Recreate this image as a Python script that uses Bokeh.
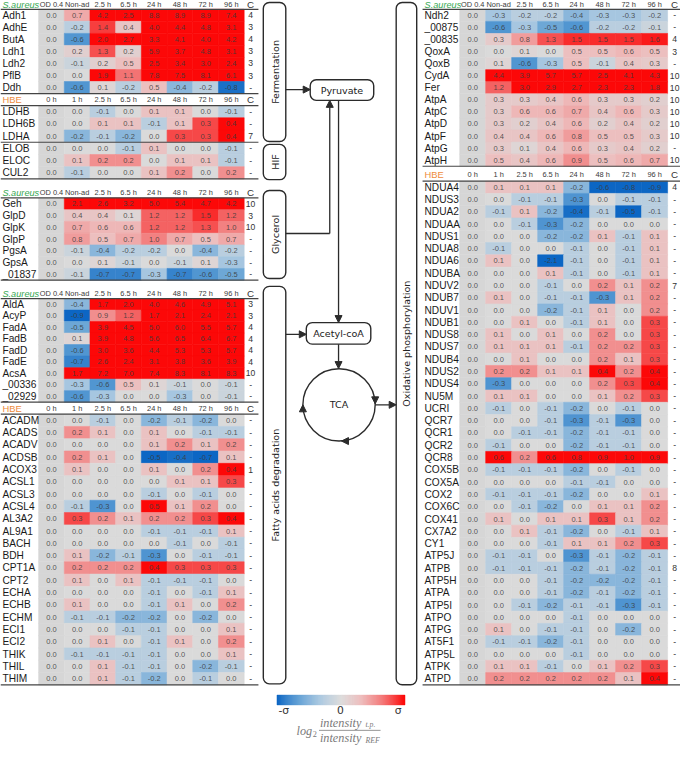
import numpy as np
from bokeh.plotting import figure
from bokeh.models import Arrow, NormalHead
from bokeh.core.properties import value
from bokeh.embed import file_html
from bokeh.resources import INLINE

# ---------------- data ----------------
SA_COLS = ["OD 0.4", "Non-ad", "2.5 h", "6.5 h", "24 h", "48 h", "72 h", "96 h"]
HBE_COLS = ["0 h", "1 h", "2.5 h", "6.5 h", "24 h", "48 h", "72 h", "96 h"]

# Fermentation (S. aureus)
ferm_genes = ["Adh1", "AdhE", "ButA", "Ldh1", "Ldh2", "PflB", "Ddh"]
ferm_vals = [
    [0.0, 0.7, 4.2, 2.5, 8.8, 8.9, 8.9, 7.4],
    [0.0, -0.2, 1.4, 0.4, 4.0, 4.4, 4.8, 3.1],
    [0.0, -0.6, 2.0, 2.7, 3.3, 4.1, 4.0, 4.2],
    [0.0, 0.2, 1.3, 0.2, 5.9, 3.7, 4.8, 3.1],
    [0.0, -0.1, 0.2, 0.5, 2.5, 3.4, 3.0, 2.4],
    [0.0, 0.0, 1.9, 1.1, 7.8, 7.5, 8.1, 6.1],
    [0.0, -0.6, 0.1, -0.2, 0.5, -0.4, -0.2, -0.8],
]
ferm_c = ["4", "3", "4", "3", "3", "3", "-"]

# Fermentation / HIF (HBE)
ldh_hif_genes = ["LDHB", "LDH6B", "LDHA", "ELOB", "ELOC", "CUL2"]
ldh_hif_vals = [
    [0.0, 0.0, -0.1, 0.0, 0.1, 0.1, 0.0, -0.1],
    [0.0, 0.0, 0.1, 0.1, -0.1, 0.1, 0.3, 0.4],
    [0.0, -0.2, -0.1, -0.2, 0.0, 0.3, 0.3, 0.4],
    [0.0, 0.0, 0.0, -0.1, 0.1, 0.0, 0.0, -0.1],
    [0.0, 0.1, 0.2, 0.2, 0.0, 0.1, 0.1, -0.1],
    [0.0, -0.1, 0.0, 0.0, 0.1, 0.2, 0.0, 0.2],
]
ldh_hif_c = ["-", "-", "7", "-", "-", "-"]

# Glycerol (S. aureus)
gly_genes = ["Geh", "GlpD", "GlpK", "GlpP", "PgsA", "GpsA", "_01837"]
gly_vals = [
    [0.0, 2.1, 2.6, 3.2, 5.0, 5.4, 4.7, 4.2],
    [0.0, 0.4, 0.4, 0.1, 1.2, 1.2, 1.5, 1.2],
    [0.0, 0.7, 0.6, 0.6, 1.2, 1.2, 1.3, 1.0],
    [0.0, 0.8, 0.5, 0.7, 1.0, 0.7, 0.5, 0.7],
    [0.0, -0.1, -0.4, -0.2, -0.2, 0.0, -0.4, -0.2],
    [0.0, 0.0, 0.1, -0.1, 0.0, -0.1, 0.1, -0.3],
    [0.0, -0.1, -0.7, -0.7, -0.3, -0.7, -0.6, -0.5],
]
gly_c = ["10", "3", "10", "-", "-", "-", "-"]

# Fatty acids degradation (S. aureus)
fa_sa_genes = ["AldA", "AcyP", "FadA", "FadB", "FadD", "FadE", "AcsA", "_00336", "_02929"]
fa_sa_vals = [
    [0.0, -0.4, 1.7, 2.0, 4.0, 4.6, 4.9, 5.1],
    [0.0, -0.9, 0.9, 1.2, 1.7, 2.1, 2.4, 2.1],
    [0.0, -0.5, 3.9, 4.5, 5.0, 6.0, 5.5, 5.7],
    [0.0, 0.1, 3.9, 4.8, 5.6, 6.5, 6.4, 6.7],
    [0.0, -0.6, 3.0, 3.6, 4.4, 5.3, 5.3, 5.7],
    [0.0, -0.7, 2.6, 2.4, 3.1, 3.8, 3.6, 3.9],
    [0.0, 1.7, 7.2, 7.0, 7.4, 8.3, 8.1, 8.3],
    [0.0, -0.3, -0.6, 0.5, 0.1, -0.1, 0.0, -0.1],
    [0.0, -0.6, -0.3, 0.0, 0.0, -0.3, 0.0, -0.1],
]
fa_sa_c = ["3", "3", "4", "4", "4", "4", "10", "-", "-"]

# Fatty acids degradation (HBE)
fa_hbe_genes = ["ACADM", "ACADS", "ACADV", "ACDSB", "ACOX3", "ACSL1", "ACSL3", "ACSL4",
                "AL3A2", "AL9A1", "BACH", "BDH", "CPT1A", "CPT2", "ECHA", "ECHB", "ECHM",
                "ECI1", "ECI2", "THIK", "THIL", "THIM"]
fa_hbe_vals = [
    [0.0, 0.0, -0.1, 0.0, -0.2, -0.1, -0.2, 0.0],
    [0.0, 0.2, 0.1, 0.0, 0.1, 0.0, -0.1, -0.1],
    [0.0, 0.0, 0.0, 0.0, 0.1, 0.2, 0.1, 0.2],
    [0.0, 0.2, 0.1, 0.0, -0.5, -0.4, -0.7, 0.1],
    [0.0, 0.1, 0.0, 0.0, 0.1, 0.0, 0.2, 0.4],
    [0.0, 0.0, 0.0, 0.0, 0.0, 0.1, 0.1, 0.3],
    [0.0, 0.0, 0.0, 0.0, -0.1, 0.0, -0.1, 0.0],
    [0.0, -0.1, -0.3, 0.0, 0.5, 0.1, 0.2, 0.0],
    [0.0, 0.3, 0.2, 0.1, 0.2, 0.2, 0.3, 0.4],
    [0.0, 0.0, 0.0, 0.0, -0.1, -0.1, -0.1, 0.1],
    [0.0, 0.0, 0.0, 0.0, 0.0, -0.1, 0.0, -0.1],
    [0.0, 0.1, -0.2, -0.1, -0.3, 0.0, -0.1, -0.1],
    [0.0, 0.2, 0.2, 0.2, 0.4, 0.3, 0.3, 0.3],
    [0.0, 0.1, 0.0, 0.1, -0.1, -0.1, -0.1, 0.0],
    [0.0, 0.0, 0.0, 0.0, -0.1, 0.0, -0.1, 0.1],
    [0.0, 0.1, 0.0, 0.0, -0.1, 0.1, 0.0, 0.2],
    [0.0, -0.1, -0.1, -0.2, -0.2, 0.0, -0.2, 0.0],
    [0.0, 0.0, 0.0, -0.1, -0.1, 0.0, 0.0, 0.1],
    [0.0, 0.0, 0.1, 0.0, -0.1, 0.1, 0.0, 0.2],
    [0.0, -0.1, -0.1, -0.1, -0.1, 0.0, 0.0, 0.1],
    [0.0, 0.0, 0.1, -0.1, -0.1, 0.0, -0.2, -0.1],
    [0.0, 0.0, 0.1, -0.1, -0.2, 0.0, -0.1, 0.0],
]
fa_hbe_c = ["-", "-", "-", "-", "1"] + ["-"] * 17

# Oxidative phosphorylation (S. aureus)
ox_sa_genes = ["Ndh2", "_00875", "_00835", "QoxA", "QoxB", "CydA", "Fer",
               "AtpA", "AtpC", "AtpD", "AtpF", "AtpG", "AtpH"]
ox_sa_vals = [
    [0.0, -0.3, -0.2, -0.2, -0.4, -0.3, -0.3, -0.2],
    [0.0, -0.6, -0.3, -0.5, -0.6, -0.2, -0.2, -0.1],
    [0.0, 0.3, 0.8, 1.3, 1.5, 1.5, 1.5, 1.6],
    [0.0, 0.0, 0.1, 0.0, 0.5, 0.5, 0.6, 0.5],
    [0.0, 0.1, -0.6, -0.3, 0.5, -0.1, 0.4, 0.3],
    [0.0, 4.4, 3.9, 5.7, 5.7, 2.5, 4.1, 4.3],
    [0.0, 1.2, 3.0, 2.9, 2.7, 2.3, 2.3, 1.8],
    [0.0, 0.3, 0.3, 0.4, 0.6, 0.3, 0.3, 0.2],
    [0.0, 0.3, 0.6, 0.6, 0.7, 0.4, 0.6, 0.3],
    [0.0, 0.3, 0.2, 0.4, 0.6, 0.2, 0.4, 0.2],
    [0.0, 0.4, 0.4, 0.6, 0.8, 0.5, 0.5, 0.3],
    [0.0, 0.3, 0.1, 0.4, 0.6, 0.3, 0.4, 0.2],
    [0.0, 0.5, 0.4, 0.6, 0.9, 0.5, 0.6, 0.7],
]
ox_sa_c = ["-", "-", "4", "3", "-", "10", "10", "10", "10", "10", "10", "-", "10"]

# Oxidative phosphorylation (HBE)
ox_hbe_genes = ["NDUA4", "NDUS3", "NDUA2", "NDUAA", "NDUS1", "NDUA8", "NDUA6", "NDUBA",
                "NDUV2", "NDUB7", "NDUV1", "NDUB1", "NDUS8", "NDUS7", "NDUB4", "NDUS2",
                "NDUS4", "NU5M", "UCRI", "QCR7", "QCR1", "QCR2", "QCR8", "COX5B", "COX5A",
                "COX2", "COX6C", "COX41", "CX7A2", "CY1", "ATP5J", "ATPB", "ATP5H", "ATPA",
                "ATP5I", "ATPO", "ATPG", "AT5F1", "ATP5L", "ATPK", "ATPD"]
ox_hbe_vals = [
    [0.0, 0.1, 0.1, 0.1, -0.2, -0.6, -0.8, -0.9],
    [0.0, 0.0, -0.1, -0.1, -0.3, 0.0, -0.1, -0.1],
    [0.0, -0.1, 0.1, -0.2, -0.4, -0.1, -0.5, -0.1],
    [0.0, 0.0, -0.1, -0.3, -0.2, 0.0, 0.0, 0.0],
    [0.0, 0.0, 0.0, -0.2, -0.2, 0.1, -0.1, 0.1],
    [0.0, -0.1, 0.0, 0.0, -0.1, 0.0, -0.1, 0.1],
    [0.0, 0.1, 0.0, -2.1, -0.1, 0.0, -0.1, 0.1],
    [0.0, 0.0, 0.0, 0.1, -0.1, 0.0, -0.1, 0.1],
    [0.0, 0.0, 0.0, -0.1, 0.0, 0.2, 0.1, 0.2],
    [0.0, 0.1, 0.0, -0.1, -0.1, -0.3, 0.1, 0.2],
    [0.0, 0.0, 0.0, -0.2, -0.1, 0.1, 0.0, 0.2],
    [0.0, 0.0, 0.1, 0.0, -0.1, 0.1, 0.0, 0.3],
    [0.0, 0.1, 0.0, 0.1, 0.0, 0.2, 0.0, 0.3],
    [0.0, 0.1, 0.1, 0.1, -0.1, 0.2, 0.2, 0.3],
    [0.0, 0.0, 0.1, 0.0, 0.0, 0.2, 0.1, 0.3],
    [0.0, 0.2, 0.2, 0.1, 0.1, 0.4, 0.2, 0.4],
    [0.0, -0.3, 0.0, 0.0, 0.0, 0.2, 0.3, 0.4],
    [0.0, 0.1, 0.1, 0.0, 0.0, 0.1, 0.2, 0.3],
    [0.0, -0.1, 0.0, -0.1, -0.2, 0.0, -0.1, 0.0],
    [0.0, 0.0, 0.0, -0.1, -0.3, -0.1, -0.3, 0.0],
    [0.0, 0.0, -0.1, -0.1, -0.2, -0.1, -0.1, 0.0],
    [0.0, -0.1, 0.0, 0.0, -0.2, -0.1, -0.1, 0.0],
    [0.0, 0.6, 0.2, 0.6, 0.8, 0.9, 1.0, 0.9],
    [0.0, -0.1, -0.1, -0.1, -0.2, 0.0, -0.1, 0.0],
    [0.0, 0.0, 0.0, 0.0, -0.1, -0.1, 0.0, 0.0],
    [0.0, -0.1, -0.1, -0.1, -0.2, 0.0, 0.0, 0.1],
    [0.0, 0.0, -0.1, -0.2, 0.0, 0.1, 0.1, 0.2],
    [0.0, 0.1, 0.0, 0.1, 0.1, 0.3, 0.1, 0.2],
    [0.0, 0.0, 0.1, -0.1, -0.2, 0.0, -0.1, 0.1],
    [0.0, 0.0, 0.0, -0.1, 0.1, 0.1, 0.2, 0.3],
    [0.0, -0.1, -0.1, 0.0, -0.3, -0.1, -0.2, -0.1],
    [0.0, -0.1, -0.1, -0.1, -0.2, -0.1, -0.2, -0.1],
    [0.0, 0.0, 0.0, -0.1, -0.2, -0.2, -0.2, -0.1],
    [0.0, 0.0, 0.0, -0.1, -0.2, -0.1, -0.2, -0.1],
    [0.0, 0.0, -0.1, -0.2, -0.1, -0.1, -0.3, -0.1],
    [0.0, 0.0, 0.0, 0.0, -0.1, 0.0, 0.0, 0.0],
    [0.0, 0.1, 0.0, -0.1, -0.1, 0.0, -0.2, 0.0],
    [0.0, -0.1, -0.1, -0.2, -0.1, 0.0, 0.0, 0.0],
    [0.0, 0.0, 0.0, 0.0, -0.1, 0.0, 0.0, 0.0],
    [0.0, 0.1, 0.1, -0.1, 0.0, 0.1, 0.2, 0.3],
    [0.0, 0.2, 0.2, 0.2, 0.2, 0.2, 0.1, 0.4],
]
ox_hbe_c = ["4"] + ["-"] * 7 + ["7"] + ["-"] * 22 + ["8"] + ["-"] * 9

# ---------------- styling / layout ----------------
W, H = 696, 762
SC = 680 / W


def fs(px):
    return f"{px * SC:.2f}px"


def Y(y):
    return H - y


POS = [(0.0, (218, 218, 218)), (0.33, (238, 188, 188)), (0.66, (243, 112, 112)), (1.0, (252, 8, 8))]
NEG = [(0.0, (218, 218, 218)), (0.33, (172, 201, 225)), (0.66, (92, 157, 211)), (1.0, (12, 102, 196))]
SCALE = {"SA": (1.7, 0.85), "HBE": (0.38, 0.42)}


def interp(stops, t):
    t = min(max(t, 0.0), 1.0)
    for (t0, c0), (t1, c1) in zip(stops[:-1], stops[1:]):
        if t <= t1:
            f = (t - t0) / (t1 - t0)
            c = [round(a + (b - a) * f) for a, b in zip(c0, c1)]
            return "#%02x%02x%02x" % tuple(c)
    return "#%02x%02x%02x" % stops[-1][1]


def cmap(v, sp):
    ps, ns = SCALE[sp]
    if v >= 0:
        return interp(POS, v / ps)
    return interp(NEG, -v / ns)


p = figure(width=680, height=746, x_range=(0, W), y_range=(0, H),
           output_backend="svg", toolbar_location=None, min_border=0)
p.axis.visible = False
p.grid.visible = False
p.outline_line_color = None
p.background_fill_color = "white"

TFONT = value("Liberation Sans")
DFONT = value("DejaVu Sans")
INK = "#2b2b2b"

LEFT = dict(lx=2, cx0=39, cw=26.3, ccx=256, x0=0, x1=264)
RIGHT = dict(lx=434, cx0=470, cw=26.6, ccx=690, x0=432, x1=696)


def draw_block(pan, sp, genes, vals, cvals, header_y, top, rh, seps=()):
    cols = SA_COLS if sp == "SA" else HBE_COLS
    if sp == "SA":
        p.text(x=[pan["lx"]], y=[Y(header_y)], text=["S.aureus"], text_font=TFONT,
               text_font_style="italic", text_font_size=fs(9.4), text_color="#35a852",
               text_baseline="middle", text_align="left")
    else:
        p.text(x=[pan["lx"]], y=[Y(header_y)], text=["HBE"], text_font=TFONT,
               text_font_size=fs(9.6), text_color="#ee8b3c",
               text_baseline="middle", text_align="left")
    hx = [pan["cx0"] + (j + 0.5) * pan["cw"] for j in range(len(cols))]
    p.text(x=hx, y=[Y(header_y)] * len(cols), text=cols, text_font=TFONT,
           text_font_size=fs(7.6), text_color="#3a3a3a", text_baseline="middle", text_align="center")
    p.text(x=[pan["ccx"]], y=[Y(header_y)], text=["C"], text_font=TFONT,
           text_font_size=fs(10), text_color="#333333", text_baseline="middle", text_align="center")

    xs, ys, fc, tx = [], [], [], []
    for i, row in enumerate(vals):
        yc = top + (i + 0.5) * rh
        for j, v in enumerate(row):
            xs.append(pan["cx0"] + (j + 0.5) * pan["cw"])
            ys.append(Y(yc))
            fc.append("#d6d6d6" if j == 0 else cmap(v, sp))
            tx.append(f"{v:.1f}")
    p.rect(x=xs, y=ys, width=pan["cw"], height=rh, fill_color=fc, line_color=fc, line_width=0.6)
    p.text(x=xs, y=ys, text=tx, text_font=TFONT, text_font_size=fs(7.7), text_color="#3a3a3a",
           text_alpha=0.85, text_baseline="middle", text_align="center")

    gy = [Y(top + (i + 0.5) * rh) for i in range(len(genes))]
    p.text(x=[pan["lx"]] * len(genes), y=gy, text=genes, text_font=TFONT, text_font_size=fs(10.4),
           text_color="#1a1a1a", text_baseline="middle", text_align="left")
    p.text(x=[pan["ccx"]] * len(genes), y=gy, text=cvals, text_font=TFONT, text_font_size=fs(8.8),
           text_color="#333333", text_baseline="middle", text_align="center")

    end = top + len(genes) * rh
    ly = [top, end] + [top + s * rh for s in seps]
    p.segment(x0=[pan["x0"]] * len(ly), y0=[Y(v) for v in ly], x1=[pan["x1"]] * len(ly),
              y1=[Y(v) for v in ly], line_color="#444444", line_width=1.2)


draw_block(LEFT, "SA", ferm_genes, ferm_vals, ferm_c, 4.5, 9.0, 12.3)
draw_block(LEFT, "HBE", ldh_hif_genes, ldh_hif_vals, ldh_hif_c, 101.5, 107.3, 12.5, seps=(3,))
draw_block(LEFT, "SA", gly_genes, gly_vals, gly_c, 196.5, 201.7, 12.0)
draw_block(LEFT, "SA", fa_sa_genes, fa_sa_vals, fa_sa_c, 299.5, 304.5, 11.75)
draw_block(LEFT, "HBE", fa_hbe_genes, fa_hbe_vals, fa_hbe_c, 417.0, 422.5, 12.57)
draw_block(RIGHT, "SA", ox_sa_genes, ox_sa_vals, ox_sa_c, 4.5, 9.0, 12.33)
draw_block(RIGHT, "HBE", ox_hbe_genes, ox_hbe_vals, ox_hbe_c, 178.0, 184.5, 12.55)

# ---------------- pathway diagram ----------------
# (left, right, top, bottom, label, vertical)
boxes = [
    (269, 292, 2, 144, "Fermentation", True),
    (269, 292, 147, 183, "HIF", True),
    (269, 292, 194, 284, "Glycerol", True),
    (269, 292, 292, 698, "Fatty acids degradation", True),
    (405, 426, 2, 699, "Oxidative phosphorylation", True),
    (317, 382, 81, 102, "Pyruvate", False),
    (313, 379, 329, 351, "Acetyl-coA", False),
]
p.quad(left=[b[0] for b in boxes], right=[b[1] for b in boxes],
       top=[Y(b[2]) for b in boxes], bottom=[Y(b[3]) for b in boxes],
       fill_color="white", line_color=INK, line_width=1.4, border_radius=6)
for (l, r, t, b, lab, vert) in boxes:
    p.text(x=[(l + r) / 2 + (0.5 if vert else 0)], y=[Y((t + b) / 2)], text=[lab], angle=np.pi / 2 if vert else 0,
           text_font=DFONT, text_font_size=fs(9.8), text_color="#222222",
           text_align="center", text_baseline="middle")


def arrow(x0, y0, x1, y1, line=True):
    p.add_layout(Arrow(end=NormalHead(size=7, fill_color=INK, line_color=INK, line_width=1),
                       x_start=x0, y_start=Y(y0), x_end=x1, y_end=Y(y1),
                       line_color=INK, line_width=1.3 if line else 0, line_alpha=1 if line else 0))


arrow(292, 91, 317, 91)
p.line(x=[292, 337], y=[Y(238), Y(238)], line_color=INK, line_width=1.3)
arrow(337, 238, 337, 102)
arrow(346, 102, 346, 329)
arrow(292, 341, 313, 341)
arrow(346, 351, 346, 376)
arrow(383.5, 413, 405, 413)

# TCA cycle
p.circle(x=[346.5], y=[Y(413)], radius=37, fill_color=None, line_color=INK, line_width=1.4)
p.text(x=[346.5], y=[Y(413)], text=["TCA"], text_font=DFONT, text_font_size=fs(9.8),
       text_color="#222222", text_align="center", text_baseline="middle")
arrow(383.5, 404, 383.5, 412, line=False)
arrow(357, 450, 349, 450, line=False)
arrow(309.5, 421, 309.5, 413, line=False)

# ---------------- colour legend ----------------
ts = np.linspace(-1, 1, 131)
edges = np.linspace(283, 414, 132)
lc = [interp(POS, t) if t >= 0 else interp(NEG, -t) for t in ts]
p.quad(left=edges[:-1], right=edges[1:], top=Y(709.5), bottom=Y(719.5), fill_color=lc, line_color=lc, line_width=0.5)
p.text(x=[290, 348, 407], y=[Y(725)] * 3, text=["-σ", "0", "σ"], text_font=value("DejaVu Sans"),
       text_font_size=fs(11), text_color="#333333", text_align="center", text_baseline="middle")

SERIF = value("Liberation Serif")
GREY = "#7a7a7a"
p.text(x=[303], y=[Y(746)], text=["log"], text_font=SERIF, text_font_style="italic", text_font_size=fs(12.5),
       text_color=GREY, text_align="left", text_baseline="middle")
p.text(x=[319.5], y=[Y(749)], text=["2"], text_font=SERIF, text_font_size=fs(8.5),
       text_color=GREY, text_align="left", text_baseline="middle")
p.text(x=[327, 327], y=[Y(737.5), Y(753.5)], text=["intensity", "intensity"], text_font=SERIF,
       text_font_style="italic", text_font_size=fs(12.5), text_color=GREY,
       text_align="left", text_baseline="middle")
p.text(x=[373.5, 373.5], y=[Y(740), Y(756)], text=["t.p.", "REF"], text_font=SERIF,
       text_font_style="italic", text_font_size=fs(8), text_color=GREY,
       text_align="left", text_baseline="middle")
p.line(x=[326, 389], y=[Y(745.5), Y(745.5)], line_color=GREY, line_width=0.8)

open("out.html", "w").write(file_html(p, INLINE))
